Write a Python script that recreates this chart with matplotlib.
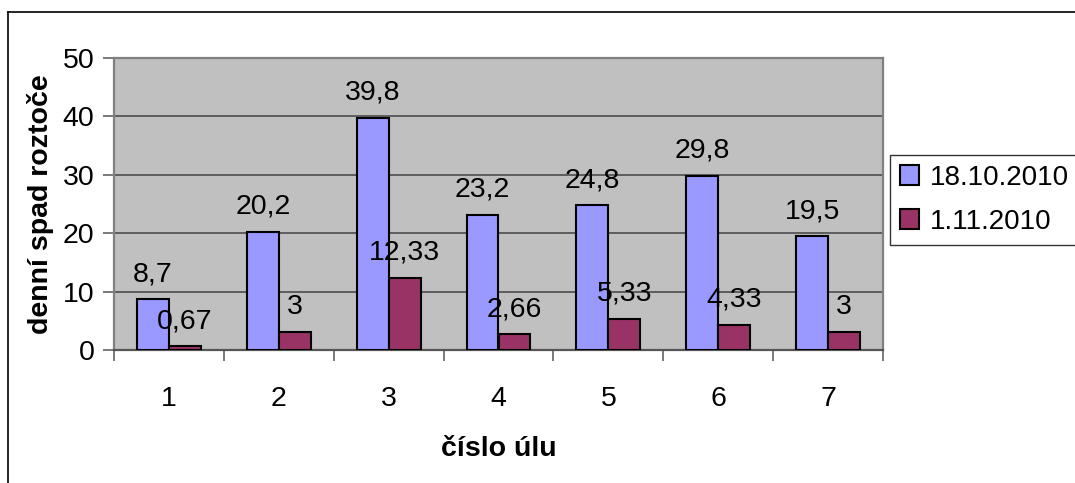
import matplotlib
matplotlib.use("Agg")
import matplotlib.pyplot as plt
import numpy as np
from matplotlib.lines import Line2D

plt.rcParams['font.family'] = ['Liberation Sans', 'DejaVu Sans']

categories = ['1', '2', '3', '4', '5', '6', '7']
series_names = ['18.10.2010', '1.11.2010']
values_1810 = [8.7, 20.2, 39.8, 23.2, 24.8, 29.8, 19.5]
values_0111 = [0.67, 3, 12.33, 2.66, 5.33, 4.33, 3]
label_1810 = ['8,7', '20,2', '39,8', '23,2', '24,8', '29,8', '19,5']
label_0111 = ['0,67', '3', '12,33', '2,66', '5,33', '4,33', '3']
y_ticks = [0, 10, 20, 30, 40, 50]

colors = ['#9999FF', '#993366']
FS = 20.5

fig = plt.figure(figsize=(10.75, 4.83), dpi=100)
ax = fig.add_axes([114 / 1075, 1 - 350 / 483, (883 - 114) / 1075, (350 - 58) / 483])
ax.set_facecolor('#C0C0C0')

x = np.arange(len(categories))
w = 0.29
bars1 = ax.bar(x - w / 2, values_1810, w, color=colors[0], edgecolor='black', linewidth=1.5, zorder=3)
bars2 = ax.bar(x + w / 2, values_0111, w, color=colors[1], edgecolor='black', linewidth=1.5, zorder=3)

for bars, vals, labs in ((bars1, values_1810, label_1810), (bars2, values_0111, label_0111)):
    for b, v, t in zip(bars, vals, labs):
        ax.annotate(t, (b.get_x() + b.get_width() / 2, v), xytext=(0, 13),
                    textcoords='offset points', ha='center', va='baseline',
                    fontsize=FS, zorder=4)

ax.set_xlim(-0.5, len(categories) - 0.5)
ax.set_ylim(0, 50)
ax.set_yticks(y_ticks)
ax.yaxis.grid(True, color='#555555', linewidth=1.3, zorder=1)
ax.set_axisbelow(True)

ax.set_xticks(x)
ax.set_xticklabels(categories)
ax.set_xticks(np.arange(-0.5, len(categories)), minor=True)
ax.tick_params(axis='x', which='major', length=0, pad=26, labelsize=FS)
ax.tick_params(axis='x', which='minor', length=8, width=1.3, color='#707070', direction='out')
ax.tick_params(axis='y', length=8, width=1.3, color='#707070', direction='out', pad=6, labelsize=FS)

for s in ax.spines.values():
    s.set_color('#808080')
    s.set_linewidth(1.6)
ax.spines['bottom'].set_color('#555555')

ax.set_ylabel('denní spad roztoče', fontsize=FS, fontweight='bold', labelpad=6)
ax.set_xlabel('číslo úlu', fontsize=FS, fontweight='bold', labelpad=17)

leg = ax.legend([bars1, bars2], series_names, loc='upper left',
                bbox_to_anchor=(890 / 1075, 1 - 155 / 483), bbox_transform=fig.transFigure,
                fontsize=20, frameon=True, fancybox=False, handlelength=0.7, handleheight=0.7,
                handletextpad=0.38, borderpad=0.35, labelspacing=0.65, borderaxespad=0)
leg.get_frame().set_edgecolor('black')
leg.get_frame().set_linewidth(1.0)

# outer chart frame
fig.add_artist(Line2D([8 / 1075, 8 / 1075], [0, 1 - 12 / 483], transform=fig.transFigure,
                      color='black', linewidth=1.2))
fig.add_artist(Line2D([8 / 1075, 1], [1 - 12 / 483, 1 - 12 / 483], transform=fig.transFigure,
                      color='black', linewidth=1.2))

fig.savefig('out.png', dpi=100)
